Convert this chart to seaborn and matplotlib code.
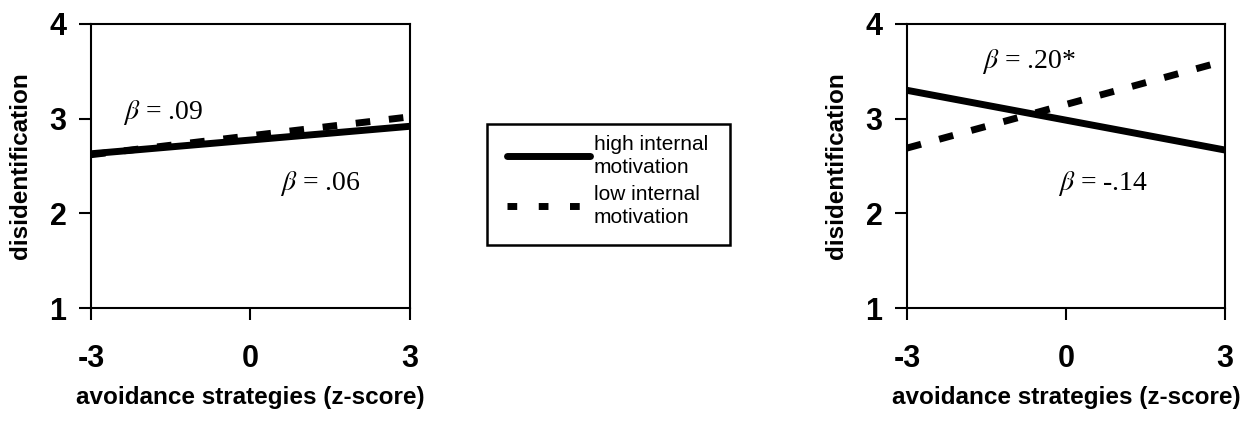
import numpy as np
import pandas as pd
import matplotlib
matplotlib.use("Agg")
import matplotlib.pyplot as plt
import seaborn as sns
from matplotlib.lines import Line2D
from matplotlib.patches import Rectangle

sns.set_theme(style="white")
plt.rcParams["font.family"] = ["Liberation Sans", "DejaVu Sans"]
plt.rcParams["mathtext.fontset"] = "stix"
plt.rcParams["axes.unicode_minus"] = False
plt.rcParams["text.color"] = "black"
plt.rcParams["axes.labelcolor"] = "black"

# data
x_vals = [-3, 3]
groups = ["high internal motivation", "low internal motivation"]
left_high = [2.63, 2.92]
left_low = [2.62, 3.02]
right_high = [3.30, 2.67]
right_low = [2.69, 3.61]
left_betas = ["$\\beta$ = .09", "$\\beta$ = .06"]
right_betas = ["$\\beta$ = .20*", "$\\beta$ = -.14"]
x_ticks = [-3, 0, 3]
y_ticks = [1, 2, 3, 4]


def make_df(high, low):
    return pd.DataFrame({
        "x": x_vals * 2,
        "y": high + low,
        "group": [groups[0]] * 2 + [groups[1]] * 2,
    })


DASH = (2.1, 2.7)
dash_map = {groups[0]: "", groups[1]: DASH}

fig = plt.figure(figsize=(12.51, 4.21), dpi=100)
ax1 = fig.add_axes([0.0727, 0.268, 0.255, 0.675])
ax2 = fig.add_axes([0.725, 0.268, 0.254, 0.675])

for ax, high, low in [(ax1, left_high, left_low), (ax2, right_high, right_low)]:
    df = make_df(high, low)
    sns.lineplot(data=df, x="x", y="y", style="group", dashes=dash_map,
                 color="black", linewidth=5, legend=False, ax=ax)
    ax.set_xlim(-3, 3)
    ax.set_ylim(1, 4)
    ax.set_xticks(x_ticks)
    ax.set_yticks(y_ticks)
    ax.tick_params(axis="both", direction="out", length=8.6, width=1.5,
                   labelsize=22, colors="black", bottom=True, left=True)
    ax.tick_params(axis="x", pad=17)
    ax.tick_params(axis="y", pad=9)
    for lab in ax.get_xticklabels() + ax.get_yticklabels():
        lab.set_fontweight("bold")
    for sp in ax.spines.values():
        sp.set_visible(True)
        sp.set_color("black")
        sp.set_linewidth(1.5)
    ax.set_xlabel("avoidance strategies (z-score)", fontsize=17.5,
                  fontweight="bold")
    ax.set_ylabel("disidentification", fontsize=17.5, fontweight="bold")
    ax.xaxis.set_label_coords(0.5, -0.275)
    ax.yaxis.set_label_coords(-0.185, 0.5)

# beta annotations
ax1.text(-2.4, 3.0, left_betas[0], fontsize=20, family="Liberation Serif")
ax1.text(0.55, 2.25, left_betas[1], fontsize=20, family="Liberation Serif")
ax2.text(-1.58, 3.54, right_betas[0], fontsize=20, family="Liberation Serif")
ax2.text(-0.15, 2.25, right_betas[1], fontsize=20, family="Liberation Serif")

# legend box drawn separately so the padding matches the original
fig.patches.append(Rectangle((487 / 1251, 1 - 245 / 421), 243 / 1251, 121 / 421,
                             transform=fig.transFigure, fill=False,
                             edgecolor="black", linewidth=1.8))
handles = [Line2D([], [], color="black", lw=5, solid_capstyle="round"),
           Line2D([], [], color="black", lw=5, dashes=(1.4, 3.1))]
labels = ["high internal\nmotivation", "low internal\nmotivation"]
leg = fig.legend(handles, labels, loc="center",
                 bbox_to_anchor=(607.5 / 1251, 1 - 181 / 421),
                 frameon=False, fontsize=15, handlelength=4.0,
                 handletextpad=0.15, borderpad=0.0, labelspacing=0.35,
                 borderaxespad=0)
for t in leg.get_texts():
    t.set_linespacing(1.3)

fig.savefig("out.png", dpi=100)
